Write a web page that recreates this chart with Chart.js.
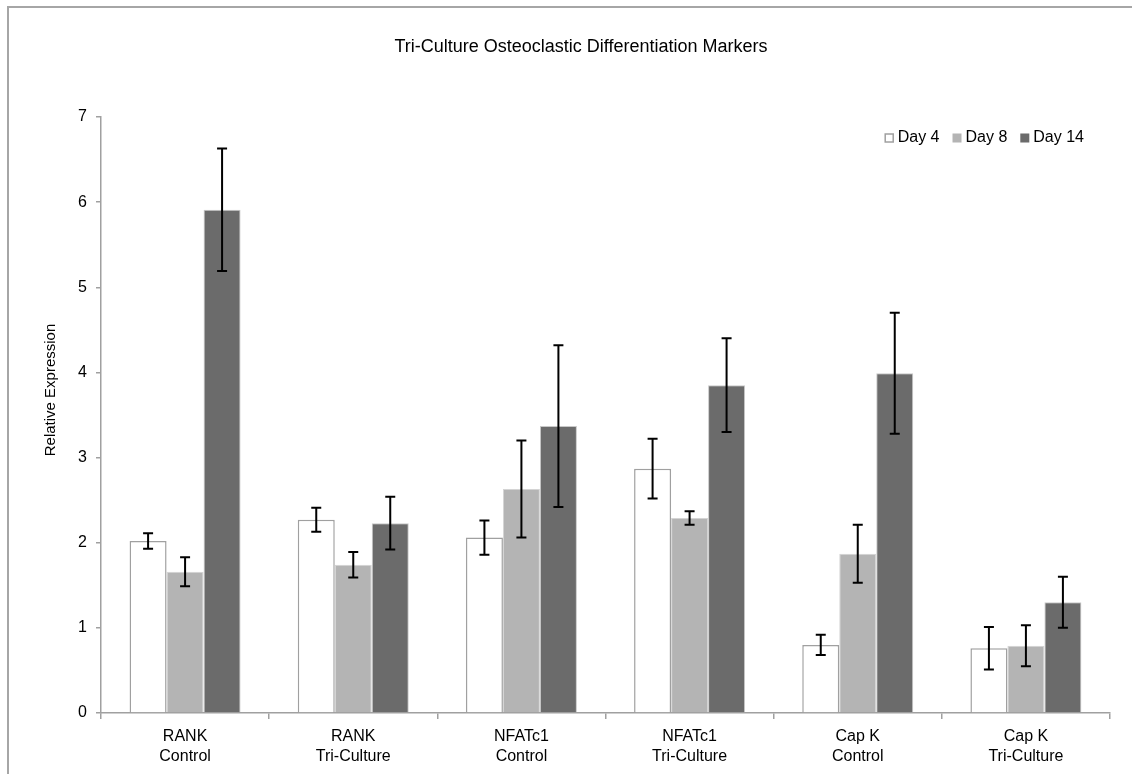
<!DOCTYPE html>
<html>
<head>
<meta charset="utf-8">
<script src="https://cdn.jsdelivr.net/npm/chart.js@4.4.1/dist/chart.umd.min.js"></script>
<style>
  html, body { margin: 0; padding: 0; background: #fff; }
  #wrap { width: 1132px; height: 774px; position: relative; }
</style>
</head>
<body>
<div id="wrap"><canvas id="myChart" width="1132" height="774"></canvas></div>
<script>
// categories and values
const categories = [
    ['RANK', 'Control'], ['RANK', 'Tri-Culture'],
    ['NFATc1', 'Control'], ['NFATc1', 'Tri-Culture'],
    ['Cap K', 'Control'], ['Cap K', 'Tri-Culture']
];
const day4 = [2.02, 2.27, 2.06, 2.87, 0.80, 0.76];
const day4Err = [0.09, 0.14, 0.20, 0.35, 0.12, 0.25];
const day8 = [1.66, 1.74, 2.63, 2.29, 1.87, 0.79];
const day8Err = [0.17, 0.15, 0.57, 0.08, 0.34, 0.24];
const day14 = [5.91, 2.23, 3.37, 3.85, 3.99, 1.30];
const day14Err = [0.72, 0.31, 0.95, 0.55, 0.71, 0.30];
const yTicks = [0, 1, 2, 3, 4, 5, 6, 7];

const chartTitle = 'Tri-Culture Osteoclastic Differentiation Markers';
const yTitle = 'Relative Expression';
const fontFamily = '"Liberation Sans", Arial, sans-serif';

// frame lines, title and y axis title
const framePlugin = {
    id: 'frame',
    beforeDraw(chart) {
        const c = chart.ctx;
        c.save();
        c.strokeStyle = '#a6a6a6';
        c.lineWidth = 2;
        c.beginPath();
        c.moveTo(1132, 7);
        c.lineTo(8, 7);
        c.lineTo(8, 774);
        c.stroke();
        c.fillStyle = '#000';
        c.font = '18px ' + fontFamily;
        c.textAlign = 'center';
        c.textBaseline = 'middle';
        c.fillText(chartTitle, 581, 47);
        c.translate(51, 390);
        c.rotate(-Math.PI / 2);
        c.font = '15px ' + fontFamily;
        c.fillText(yTitle, 0, 0);
        c.restore();
    }
};

// legend in the top right of the plot, built from the datasets
const legendPlugin = {
    id: 'cornerLegend',
    afterDraw(chart) {
        const c = chart.ctx;
        const box = 9, gap = 4, itemGap = 13, right = chart.chartArea.right - 26, yMid = 138;
        c.save();
        c.font = '16px ' + fontFamily;
        c.textBaseline = 'middle';
        const widths = chart.data.datasets.map(function (ds) {
            return box + gap + c.measureText(ds.label).width;
        });
        let x = right - widths.reduce(function (a, b) { return a + b; }, 0) - itemGap * (widths.length - 1);
        chart.data.datasets.forEach(function (ds, i) {
            c.fillStyle = ds.backgroundColor;
            c.fillRect(x, yMid - box / 2, box, box);
            if (i === 0) {
                c.strokeStyle = ds.borderColor;
                c.lineWidth = 1.5;
                c.strokeRect(x + 0.5, yMid - box / 2 + 0.5, box - 1, box - 1);
            }
            c.fillStyle = '#000';
            c.fillText(ds.label, x + box + gap, yMid);
            x += widths[i] + itemGap;
        });
        c.restore();
    }
};

// error bars on top of each bar
const errorBarPlugin = {
    id: 'errorBars',
    afterDatasetsDraw(chart) {
        const c = chart.ctx;
        const yScale = chart.scales.y;
        c.save();
        c.strokeStyle = '#000';
        c.lineWidth = 2;
        chart.data.datasets.forEach(function (ds, i) {
            const meta = chart.getDatasetMeta(i);
            meta.data.forEach(function (bar, j) {
                const v = ds.data[j], e = ds.errors[j];
                const yTop = yScale.getPixelForValue(v + e);
                const yBot = yScale.getPixelForValue(v - e);
                c.beginPath();
                c.moveTo(bar.x, yTop); c.lineTo(bar.x, yBot);
                c.moveTo(bar.x - 5, yTop); c.lineTo(bar.x + 5, yTop);
                c.moveTo(bar.x - 5, yBot); c.lineTo(bar.x + 5, yBot);
                c.stroke();
            });
        });
        c.restore();
    }
};

const ctx = document.getElementById('myChart');

new Chart(ctx, {
    type: 'bar',
    data: {
        labels: categories,
        datasets: [{
            label: 'Day 4',
            data: day4,
            errors: day4Err,
            backgroundColor: '#ffffff',
            borderColor: '#a0a0a0',
            borderWidth: 1.5
        }, {
            label: 'Day 8',
            data: day8,
            errors: day8Err,
            backgroundColor: '#b4b4b4',
            borderColor: '#d4d4d4',
            borderWidth: 1
        }, {
            label: 'Day 14',
            data: day14,
            errors: day14Err,
            backgroundColor: '#6b6b6b',
            borderColor: '#c8c8c8',
            borderWidth: 1
        }]
    },
    options: {
        responsive: false,
        animation: false,
        layout: { padding: { top: 117, right: 22, left: 0, bottom: 0 } },
        datasets: { bar: { categoryPercentage: 0.66, barPercentage: 1.0 } },
        plugins: {
            title: { display: false },
            tooltip: { enabled: false },
            legend: { display: false }
        },
        scales: {
            x: {
                afterFit: function (scale) { scale.height = 61; },
                grid: { display: true, drawOnChartArea: false, drawTicks: true, tickLength: 6, color: '#a0a0a0', lineWidth: 1.5 },
                border: { display: true, color: '#a0a0a0', width: 1.5 },
                ticks: {
                    color: '#000', padding: 8,
                    font: { size: 16, family: fontFamily, lineHeight: 1.25 }
                }
            },
            y: {
                min: 0, max: 7,
                afterFit: function (scale) { scale.width = 101; },
                afterBuildTicks: function (scale) { scale.ticks = yTicks.map(function (v) { return { value: v }; }); },
                grid: { display: true, drawOnChartArea: false, drawTicks: true, tickLength: 5, color: '#a0a0a0', lineWidth: 1.5 },
                border: { display: true, color: '#a0a0a0', width: 1.5 },
                ticks: {
                    color: '#000', padding: 9,
                    font: { size: 16, family: fontFamily }
                }
            }
        }
    },
    plugins: [framePlugin, errorBarPlugin, legendPlugin]
});
</script>
</body>
</html>
